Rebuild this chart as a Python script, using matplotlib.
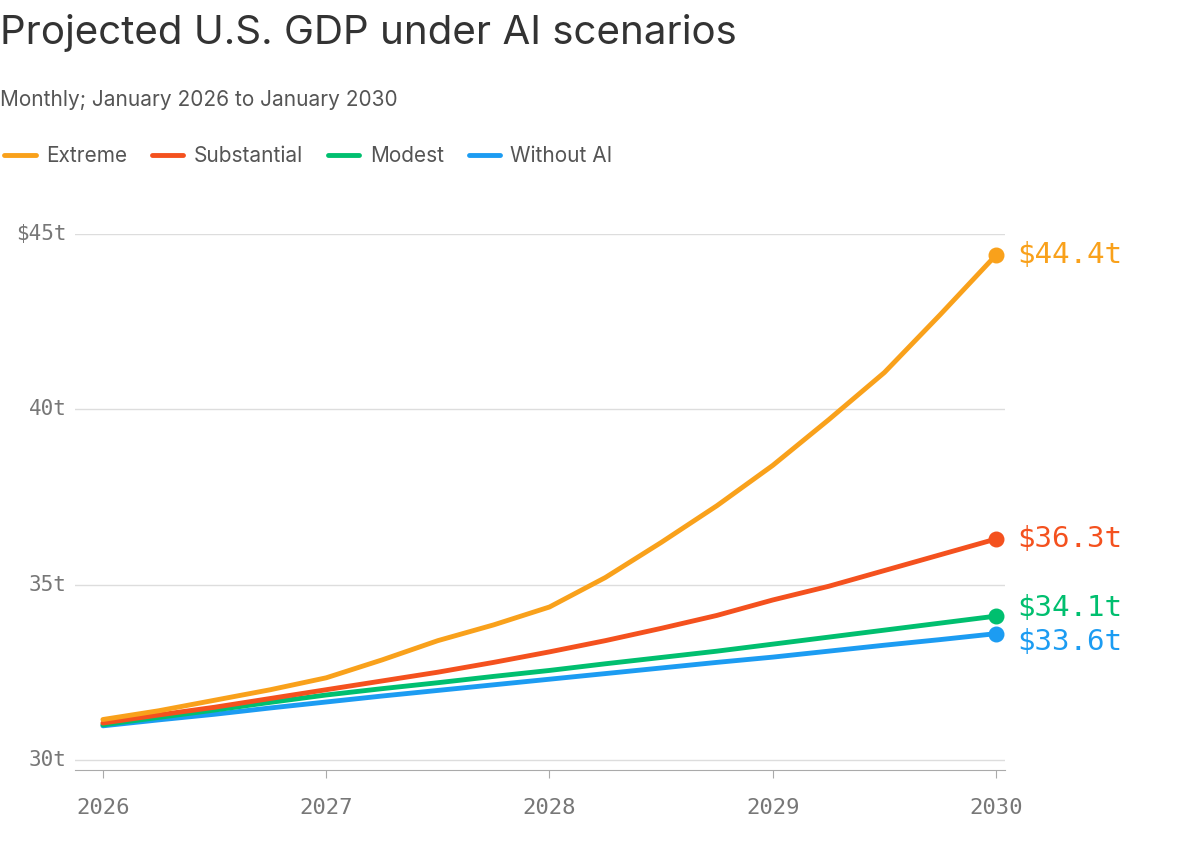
import matplotlib; matplotlib.use('Agg')
import matplotlib.pyplot as plt

# values (quarterly points)
years = [2026, 2026.25, 2026.5, 2026.75, 2027, 2027.25, 2027.5, 2027.75, 2028, 2028.25, 2028.5, 2028.75,
         2029, 2029.25, 2029.5, 2029.75, 2030]
extreme = [31.15, 31.4, 31.7, 32.0, 32.34, 32.85, 33.4, 33.85, 34.36, 35.2, 36.2, 37.25,
           38.4, 39.7, 41.05, 42.7, 44.4]
substantial = [31.05, 31.28, 31.5, 31.75, 32.0, 32.25, 32.5, 32.78, 33.08, 33.4, 33.75, 34.12,
               34.56, 34.95, 35.4, 35.85, 36.3]
modest = [31.0, 31.21, 31.42, 31.64, 31.85, 32.03, 32.2, 32.38, 32.55, 32.74, 32.92, 33.1,
          33.3, 33.5, 33.7, 33.9, 34.1]
without = [30.97, 31.14, 31.3, 31.48, 31.65, 31.82, 31.98, 32.14, 32.3, 32.46, 32.62, 32.78,
           32.93, 33.1, 33.27, 33.43, 33.6]
names = ['Extreme', 'Substantial', 'Modest', 'Without AI']
colors = ['#f9a11b', '#f4511e', '#00bf6f', '#1c9cf2']
series = [extreme, substantial, modest, without]
label_shift = [0, 0, 6, -6]
yticks = [30, 35, 40, 45]
ylabels = ['30t', '35t', '40t', '$45t']

plt.rcParams['font.family'] = ['Inter', 'DejaVu Sans']
fig = plt.figure(figsize=(12, 8.68), dpi=100)
ax = fig.add_axes([75/1200, 1-770/868, 930/1200, 536/868])
for vals, c, n in list(zip(series, colors, names))[::-1]:
    ax.plot(years, vals, color=c, lw=3.5, label=n, solid_capstyle='round', zorder=3)
    ax.scatter([years[-1]], [vals[-1]], s=110, color=c, zorder=4)
for vals, c, dy in zip(series, colors, label_shift):
    ax.annotate(f'${vals[-1]:.1f}t', (years[-1], vals[-1]), xytext=(15, dy), textcoords='offset points',
                va='center', ha='left', fontsize=21, color=c, family='DejaVu Sans Mono', annotation_clip=False)
ax.set_xlim(2025.875, 2030.04)
ax.set_ylim(29.71, 45)
ax.set_yticks(yticks)
ax.set_yticklabels(ylabels, family='DejaVu Sans Mono', fontsize=15, color='#777777')
ax.set_xticks([2026, 2027, 2028, 2029, 2030])
ax.set_xticklabels(['2026', '2027', '2028', '2029', '2030'], family='DejaVu Sans Mono', fontsize=16, color='#777777')
ax.tick_params(axis='y', length=0, pad=6)
ax.tick_params(axis='x', length=6, color='#aaaaaa', pad=14)
ax.grid(axis='y', color='#dddddd', lw=1)
for s in ['top', 'right', 'left']:
    ax.spines[s].set_visible(False)
ax.spines['bottom'].set_color('#aaaaaa')
for lb in ax.get_yticklabels():
    lb.set_verticalalignment('center')
fig.text(0.0, 1-33/868, 'Projected U.S. GDP under AI scenarios', fontsize=29, color='#333333', va='center')
fig.text(0.0, 1-100/868, 'Monthly; January 2026 to January 2030', fontsize=15, color='#555555', va='center')
h, l = ax.get_legend_handles_labels()
fig.legend(h[::-1], l[::-1], loc='center left', bbox_to_anchor=(-0.012, 1-156/868), ncol=4, frameon=False,
           fontsize=15, handlelength=1.5, handletextpad=0.5, columnspacing=1.2, labelcolor='#555555')
fig.savefig('out.png', dpi=100, facecolor='white')
